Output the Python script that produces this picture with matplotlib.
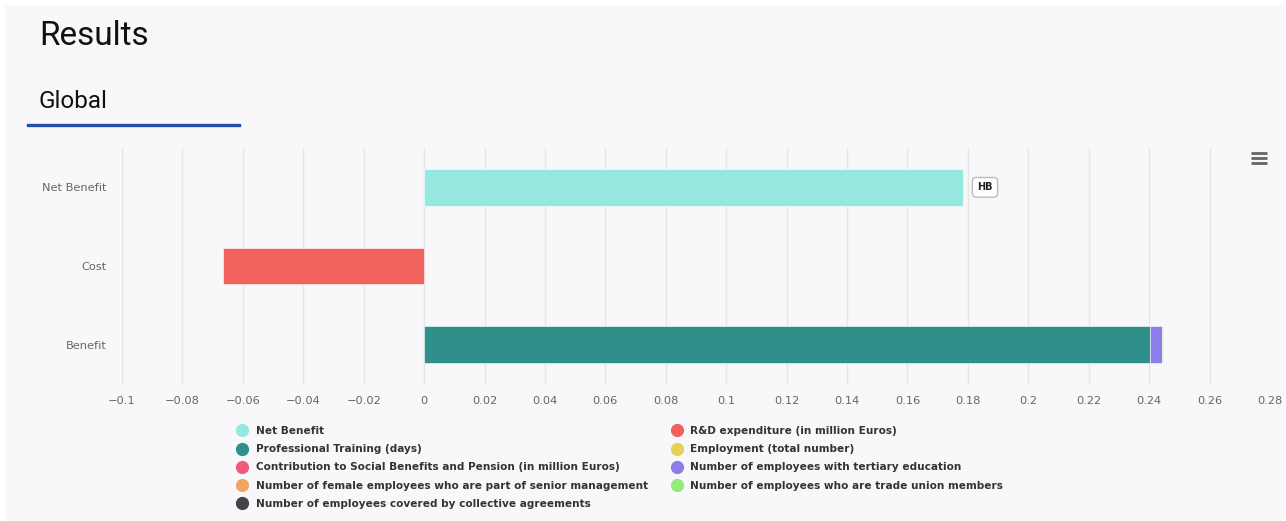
import matplotlib
matplotlib.use("Agg")
import matplotlib.pyplot as plt
from matplotlib.lines import Line2D
from matplotlib.patches import Rectangle
import numpy as np

# categories bottom -> top
categories = ["Benefit", "Cost", "Net Benefit"]

# one value per category, per series (Highcharts order)
series_names = [
    "Net Benefit",
    "R&D expenditure (in million Euros)",
    "Professional Training (days)",
    "Employment (total number)",
    "Contribution to Social Benefits and Pension (in million Euros)",
    "Number of employees with tertiary education",
    "Number of female employees who are part of senior management",
    "Number of employees who are trade union members",
    "Number of employees covered by collective agreements",
]
net_benefit = [0.0, 0.0, 0.1785]
rd_expenditure = [0.0, -0.0666, 0.0]
professional_training = [0.2404, 0.0, 0.0]
employment = [0.0, 0.0, 0.0]
contribution_social = [0.0, 0.0, 0.0]
tertiary_education = [0.0037, 0.0, 0.0]
female_senior = [0.0, 0.0, 0.0]
trade_union = [0.0006, 0.0, 0.0]
collective_agreements = [0.0, 0.0, 0.0]

series_values = [net_benefit, rd_expenditure, professional_training, employment,
                 contribution_social, tertiary_education, female_senior,
                 trade_union, collective_agreements]
series_colors = ["#95e8e0", "#f0625e", "#2f8f8a", "#e4d354", "#f25a7a",
                 "#8c7de8", "#f4a460", "#90ed7d", "#434348"]

xticks = [-0.1, -0.08, -0.06, -0.04, -0.02, 0, 0.02, 0.04, 0.06, 0.08, 0.1,
          0.12, 0.14, 0.16, 0.18, 0.2, 0.22, 0.24, 0.26, 0.28]
marker_label = "HB"

W, H = 1286, 521
fig = plt.figure(figsize=(W / 100, H / 100), dpi=100)
fig.patch.set_facecolor("white")
fig.patches.append(Rectangle((5 / W, 0), (W - 7) / W, (H - 5) / H,
                             transform=fig.transFigure, facecolor="#f8f8fa",
                             edgecolor="none", zorder=-10))

fig.text(39 / W, 1 - 36 / H, "Results", family="Roboto", fontsize=24,
         color="#111111", va="center", ha="left")
fig.text(39 / W, 1 - 101 / H, "Global", family="Roboto", fontsize=17.5,
         color="#111111", va="center", ha="left")
fig.add_artist(Line2D([28 / W, 239 / W], [1 - 125 / H, 1 - 125 / H],
                      transform=fig.transFigure, color="#2150a8", lw=2.4))

# hamburger menu
for yy in (153, 158, 163):
    fig.add_artist(Line2D([1251 / W, 1267 / W], [1 - yy / H, 1 - yy / H],
                          transform=fig.transFigure, color="#666666", lw=2.0,
                          solid_capstyle="butt"))

ax = fig.add_axes([122 / W, 1 - 384 / H, (1270 - 122) / W, 236 / H])
ax.set_facecolor("none")

y = np.arange(len(categories))
pos_left = np.zeros(len(categories))
neg_left = np.zeros(len(categories))
for name, vals, col in zip(series_names, series_values, series_colors):
    vals = np.array(vals)
    left = np.where(vals >= 0, pos_left, neg_left)
    mask = vals != 0
    if mask.any():
        ax.barh(y[mask], vals[mask], left=left[mask], height=0.47, color=col,
                edgecolor="white", linewidth=0.4, zorder=3)
    pos_left += np.where(vals > 0, vals, 0)
    neg_left += np.where(vals < 0, vals, 0)

ax.annotate(marker_label, xy=(net_benefit[2], 2), xytext=(10, 0),
            textcoords="offset points", ha="left", va="center",
            fontsize=7, fontweight="bold", color="#222222", zorder=5,
            bbox=dict(boxstyle="round,pad=0.5,rounding_size=0.4",
                      facecolor="white", edgecolor="#bbbbbb", lw=1))

ax.set_xlim(-0.1, 0.28)
ax.set_ylim(-0.5, 2.5)
ax.set_xticks(xticks)
ax.set_xticklabels([("%g" % t).replace("-", "\u2212") for t in xticks])
ax.set_yticks(y)
ax.set_yticklabels(categories)
ax.grid(axis="x", color="#e6e6e6", lw=1, zorder=0)
ax.set_axisbelow(True)
for s in ax.spines.values():
    s.set_visible(False)
ax.tick_params(axis="x", length=0, pad=9, labelsize=8.2, labelcolor="#666666")
ax.tick_params(axis="y", length=0, pad=11, labelsize=8.2, labelcolor="#666666")

handles = []
for name, col in zip(series_names, series_colors):
    handles.append(Line2D([], [], marker="o", linestyle="none", markersize=8.5,
                          markerfacecolor=col, markeredgecolor=col, label=name))
# column-major order for the two-column legend
order = [0, 2, 4, 6, 8, 1, 3, 5, 7]
leg = fig.legend([handles[i] for i in order], [series_names[i] for i in order],
                 loc="upper left", bbox_to_anchor=(237 / W, 1 - 426 / H),
                 ncol=2, frameon=False, handletextpad=0.8, labelspacing=0.78,
                 columnspacing=2.2, handlelength=1.0, borderpad=0,
                 borderaxespad=0, prop=dict(size=7.6, weight="bold"))
for t in leg.get_texts():
    t.set_color("#333333")

fig.savefig("out.png", dpi=100, facecolor="white")
